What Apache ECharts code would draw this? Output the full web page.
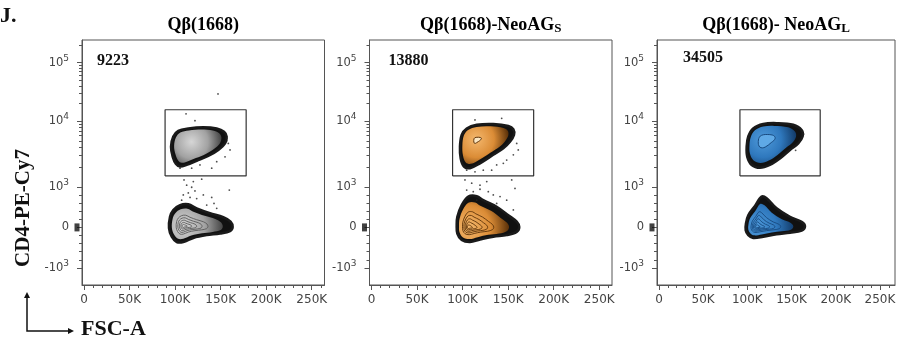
<!DOCTYPE html>
<html>
<head>
<meta charset="utf-8">
<script src="https://cdn.jsdelivr.net/npm/echarts@6.0.0/dist/echarts.min.js"></script>
<style>
  html, body { margin: 0; padding: 0; background: #fff; }
  #chart { width: 900px; height: 339px; }
</style>
</head>
<body>
<div id="chart"></div>
<script>
// FSC-A in thousands, CD4 in display units (0 = 0, 1 = 10^3, ...)
const titles = ['Qβ(1668)', 'Qβ(1668)-NeoAG', 'Qβ(1668)- NeoAG']
const titleSubs = ['', 'S', 'L']
const counts = ['9223', '13880', '34505']

const xTicks = [0, 50, 100, 150, 200, 250]
const xMinorTicks = [10, 20, 30, 40, 60, 70, 80, 90, 110, 120, 130, 140, 160, 170, 180, 190, 210, 220, 230, 240, 260]
const yTicks = [-1, 0, 1, 2.62, 4.06]
const yTickLabels = [['-10', '3'], ['0', ''], ['10', '3'], ['10', '4'], ['10', '5']]
const yMinorTicks = [-0.8, -0.6, -0.4, -0.2, 0.2, 0.4, 0.6, 0.8,
  1.49, 1.77, 1.98, 2.13, 2.26, 2.37, 2.46, 2.55,
  3.05, 3.31, 3.49, 3.63, 3.74, 3.84, 3.92, 3.99, 4.49]

const gate1 = [[89, 1.27], [178, 1.27], [178, 2.9], [89, 2.9], [89, 1.27]]
const gate2 = [[89, 1.27], [178, 1.27], [178, 2.9], [89, 2.9], [89, 1.27]]
const gate3 = [[91.6, 1.27], [182.4, 1.27], [182.4, 2.9], [91.6, 2.9], [91.6, 1.27]]

const upperOutline1 = [[98.0, 2.24], [103.5, 2.38], [114.5, 2.44], [131.0, 2.47], [145.7, 2.44], [153.7, 2.36], [156.6, 2.24], [154.8, 2.07], [147.4, 1.91], [136.4, 1.76], [123.7, 1.64], [112.7, 1.54], [105.4, 1.5], [101.0, 1.56], [97.4, 1.74], [95.5, 1.99]]
const upperPeak1 = [118, 2.11]
const lowerOutline1 = [[94.4, 0.26], [98.0, 0.43], [105.4, 0.55], [114.5, 0.57], [123.7, 0.47], [138.3, 0.35], [152.9, 0.25], [160.9, 0.14], [163.2, 0.01], [160.3, -0.09], [149.3, -0.15], [134.7, -0.19], [120.0, -0.26], [109.0, -0.36], [101.8, -0.36], [96.3, -0.23], [93.3, -0.02]]
const lowerPeak1 = [109, 0.03]
const dots1 = [[112.0, 2.8], [121.8, 2.63], [156.6, 2.2], [158.4, 2.07], [160.3, 1.91], [154.8, 1.74], [145.7, 1.62], [140.2, 1.46], [127.3, 1.54], [118.2, 1.46], [105.4, 1.46], [109.8, 1.17], [112.7, 1.04], [118.2, 0.99], [121.8, 0.9], [114.5, 0.85], [109.0, 0.8], [116.4, 0.74], [123.7, 0.71], [129.2, 1.19], [131.0, 0.8], [140.2, 0.74], [142.7, 0.59], [145.7, 0.47], [159.5, 0.92], [134.7, 0.55], [107.2, 0.67], [120.0, 1.13], [147.1, 3.29]]

const upperOutline2 = [[99.0, 2.28], [104.5, 2.44], [115.5, 2.53], [133.7, 2.55], [150.2, 2.5], [155.7, 2.42], [156.4, 2.28], [152.0, 2.11], [144.7, 1.95], [133.7, 1.79], [119.1, 1.58], [108.1, 1.46], [101.5, 1.5], [97.9, 1.7], [97.1, 1.99]]
const upperPeak2 = [114.7, 2.17]
const lowerOutline2 = [[94.2, 0.26], [99.0, 0.55], [106.3, 0.76], [115.5, 0.77], [122.7, 0.67], [137.4, 0.51], [150.2, 0.3], [159.4, 0.14], [162.2, 0.01], [159.4, -0.11], [148.4, -0.19], [133.7, -0.23], [119.1, -0.3], [108.1, -0.36], [99.0, -0.31], [94.2, -0.15], [93.5, 0.06]]
const lowerPeak2 = [106.3, 0]
const dots2 = [[113.6, 2.65], [142.9, 2.69], [155.7, 2.4], [159.4, 2.07], [161.1, 1.91], [155.7, 1.79], [148.4, 1.66], [144.7, 1.58], [137.4, 1.54], [131.9, 1.41], [122.7, 1.41], [113.6, 1.37], [104.5, 1.41], [102.6, 1.17], [110.0, 1.09], [119.1, 1.04], [126.5, 1.13], [104.5, 0.92], [111.7, 0.88], [119.1, 0.94], [128.2, 0.88], [133.7, 0.8], [141.1, 0.76], [148.4, 0.67], [153.9, 1.17], [157.5, 0.96], [115.5, 0.67], [137.4, 0.59], [155.7, 0.43]]

const upperOutline3 = [[101.0, 2.24], [106.6, 2.44], [118.0, 2.55], [133.1, 2.57], [151.9, 2.53], [161.4, 2.4], [162.5, 2.24], [157.6, 2.07], [148.2, 1.91], [136.9, 1.7], [125.5, 1.54], [114.3, 1.47], [104.9, 1.54], [99.9, 1.74], [99.2, 1.99]]
const upperPeak3 = [118.0, 2.17]
const lowerOutline3 = [[98.4, 0.1], [101.0, 0.3], [108.6, 0.53], [116.1, 0.76], [121.8, 0.72], [133.1, 0.47], [148.2, 0.26], [161.4, 0.14], [165.2, 0.03], [161.4, -0.08], [148.2, -0.13], [133.1, -0.17], [118.0, -0.23], [106.6, -0.26], [101.0, -0.19], [98.1, -0.07]]
const lowerPeak3 = [110.3, 0.01]
const dots3 = [[163.6, 2.3], [154.6, 1.9]]

// layout / look
const boxes = [
  { left: 82, width: 242.5, xMax: 264 },
  { left: 369.5, width: 242.5, xMax: 264 },
  { left: 657, width: 238, xMax: 267 }
]
const TOP = 40
const HEIGHT = 245
const X_MIN = -2.2
const countOffset = [15, 19, 26]
const countY = [61, 61, 58]

const looks = [
  { stops: ['#d6d6d6', '#a2a2a2', '#444444'], ring: '#5a5a5a', hi: null },
  { stops: ['#f4b86e', '#db8c36', '#5a3008'], ring: '#5e3309', hi: '#fbe7c4' },
  { stops: ['#4f9ada', '#2f78bd', '#133c6a'], ring: '#17497f', hi: '#5fa9e6' }
]

const RINGS = [0.5, 0.38, 0.27, 0.17, 0.08]
const pops = [
  [{ outline: upperOutline1, peak: upperPeak1, band: 0.85, rings: [] }, { outline: lowerOutline1, peak: lowerPeak1, band: 0.8, rings: RINGS }],
  [{ outline: upperOutline2, peak: upperPeak2, band: 0.85, rings: [], hi: 0.14 }, { outline: lowerOutline2, peak: lowerPeak2, band: 0.8, rings: RINGS }],
  [{ outline: upperOutline3, peak: upperPeak3, band: 0.83, rings: [], hi: 0.3 }, { outline: lowerOutline3, peak: lowerPeak3, band: 0.76, rings: RINGS }]
]
const dots = [dots1, dots2, dots3]
const gates = [gate1, gate2, gate3]

const AXIS_COLOR = '#555'
const LABEL_COLOR = '#444'

function renderPops(panelPops, look) {
  return function (params, api) {
    const pop = panelPops[params.dataIndex]
    const c = api.coord(pop.peak)
    const pts = pop.outline.map((p) => api.coord(p))
    const toward = (k) => pts.map((p) => [c[0] + (p[0] - c[0]) * k, c[1] + (p[1] - c[1]) * k])
    const r = Math.max(...pts.map((p) => Math.hypot(p[0] - c[0], p[1] - c[1])))
    const children = [
      { type: 'polygon', shape: { points: pts, smooth: 0.35 }, style: { fill: '#111', stroke: '#1a1a1a', lineWidth: 2.5 } },
      {
        type: 'polygon',
        shape: { points: toward(pop.band), smooth: 0.35 },
        style: {
          fill: new echarts.graphic.RadialGradient(c[0], c[1], r * pop.band, [
            { offset: 0, color: look.stops[0] },
            { offset: 0.55, color: look.stops[1] },
            { offset: 1, color: look.stops[2] }
          ], true)
        }
      }
    ]
    pop.rings.forEach((k) => {
      children.push({ type: 'polygon', shape: { points: toward(k), smooth: 0.35 }, style: { fill: 'none', stroke: look.ring, lineWidth: 0.9 } })
    })
    if (pop.hi && look.hi) {
      children.push({ type: 'polygon', shape: { points: toward(pop.hi), smooth: 0.35 }, style: { fill: look.hi, stroke: look.ring, lineWidth: 1 } })
    }
    return { type: 'group', children }
  }
}

const option = {
  animation: false,
  grid: [],
  xAxis: [],
  yAxis: [],
  series: [],
  graphic: []
}

boxes.forEach((b, i) => {
  option.grid.push({ left: b.left, top: TOP, width: b.width, height: HEIGHT, show: true, borderColor: AXIS_COLOR, borderWidth: 1, backgroundColor: '#fff' })
  option.xAxis.push({
    type: 'value', gridIndex: i, min: X_MIN, max: b.xMax, position: 'bottom',
    axisLine: { onZero: false, lineStyle: { color: AXIS_COLOR } },
    axisTick: { customValues: xTicks, length: 5, lineStyle: { color: AXIS_COLOR } },
    axisLabel: {
      customValues: xTicks, margin: 9, color: LABEL_COLOR, fontFamily: 'DejaVu Sans', fontSize: 12,
      formatter: (v) => (v === 0 ? '0' : v + 'K')
    },
    splitLine: { show: false }
  })
  option.xAxis.push({
    type: 'value', gridIndex: i, min: X_MIN, max: b.xMax, position: 'bottom',
    axisLine: { show: false, onZero: false },
    axisTick: { customValues: xMinorTicks, length: 3, lineStyle: { color: AXIS_COLOR } },
    axisLabel: { show: false },
    splitLine: { show: false }
  })
  option.yAxis.push({
    type: 'value', gridIndex: i, min: -1.42, max: 4.62, position: 'left',
    axisLine: { show: true, onZero: false, lineStyle: { color: AXIS_COLOR } },
    axisTick: { show: true, customValues: yTicks, length: 5, lineStyle: { color: AXIS_COLOR } },
    axisLabel: {
      customValues: yTicks, margin: 13, color: LABEL_COLOR, fontFamily: 'DejaVu Sans', fontSize: 11,
      formatter: (v) => {
        const l = yTickLabels[yTicks.indexOf(v)]
        return l[1] ? '{b|' + l[0] + '}{e|' + l[1] + '}' : '{b|' + l[0] + '}'
      },
      rich: {
        b: { fontSize: 11.5, color: LABEL_COLOR, fontFamily: 'DejaVu Sans' },
        e: { fontSize: 9, color: LABEL_COLOR, fontFamily: 'DejaVu Sans', padding: [0, 0, 8, 0] }
      }
    },
    splitLine: { show: false }
  })
  option.yAxis.push({
    type: 'value', gridIndex: i, min: -1.42, max: 4.62, position: 'left',
    axisLine: { show: false, onZero: false },
    axisTick: { show: true, customValues: yMinorTicks, length: 3, lineStyle: { color: AXIS_COLOR } },
    axisLabel: { show: false },
    splitLine: { show: false }
  })
  const xi = i * 2
  const yi = i * 2
  option.series.push({
    type: 'custom', xAxisIndex: xi, yAxisIndex: yi, silent: true, z: 2,
    renderItem: renderPops(pops[i], looks[i]),
    data: pops[i].map((p) => p.peak)
  })
  option.series.push({
    type: 'scatter', xAxisIndex: xi, yAxisIndex: yi, silent: true, z: 3,
    symbolSize: 1.8, itemStyle: { color: '#222' }, data: dots[i]
  })
  option.series.push({
    type: 'line', xAxisIndex: xi, yAxisIndex: yi, silent: true, z: 4,
    symbol: 'none', lineStyle: { color: '#333', width: 1.2 }, data: gates[i]
  })
  option.series.push({
    type: 'scatter', xAxisIndex: xi, yAxisIndex: yi, silent: true, clip: false, z: 5,
    symbol: 'rect', symbolSize: [5, 8], symbolOffset: [-5, 0], itemStyle: { color: '#111' },
    data: [[X_MIN, 0]]
  })
  option.graphic.push({
    type: 'text', x: b.left + b.width / 2, y: 25,
    style: {
      text: titleSubs[i] ? '{t|' + titles[i] + '}{s|' + titleSubs[i] + '}' : '{t|' + titles[i] + '}',
      align: 'center', verticalAlign: 'middle',
      rich: {
        t: { fontFamily: 'Liberation Serif', fontWeight: 'bold', fontSize: 18, color: '#111' },
        s: { fontFamily: 'Liberation Serif', fontWeight: 'bold', fontSize: 13, color: '#111', padding: [8, 0, 0, 0] }
      }
    }
  })
  option.graphic.push({
    type: 'text', x: b.left + countOffset[i], y: countY[i],
    style: { text: counts[i], fontFamily: 'Liberation Serif', fontWeight: 'bold', fontSize: 16, fill: '#111', verticalAlign: 'middle' }
  })
})

option.graphic.push(
  { type: 'text', x: 0, y: 16, style: { text: 'J.', fontFamily: 'Liberation Serif', fontWeight: 'bold', fontSize: 22, fill: '#111', verticalAlign: 'middle' } },
  { type: 'text', x: 24, y: 208, rotation: Math.PI / 2, style: { text: 'CD4-PE-Cy7', fontFamily: 'Liberation Serif', fontWeight: 'bold', fontSize: 21, fill: '#111', align: 'center', verticalAlign: 'middle' } },
  { type: 'text', x: 81, y: 329, style: { text: 'FSC-A', fontFamily: 'Liberation Serif', fontWeight: 'bold', fontSize: 22, fill: '#111', verticalAlign: 'middle' } },
  { type: 'polyline', shape: { points: [[27, 297], [27, 331], [69, 331]] }, style: { stroke: '#111', lineWidth: 1.5, fill: 'none' } },
  { type: 'polygon', shape: { points: [[24, 298], [30, 298], [27, 292]] }, style: { fill: '#111' } },
  { type: 'polygon', shape: { points: [[68, 328], [68, 334], [74, 331]] }, style: { fill: '#111' } }
)

const chart = echarts.init(document.getElementById('chart'), null, { renderer: 'canvas' })
chart.setOption(option)
</script>
</body>
</html>
